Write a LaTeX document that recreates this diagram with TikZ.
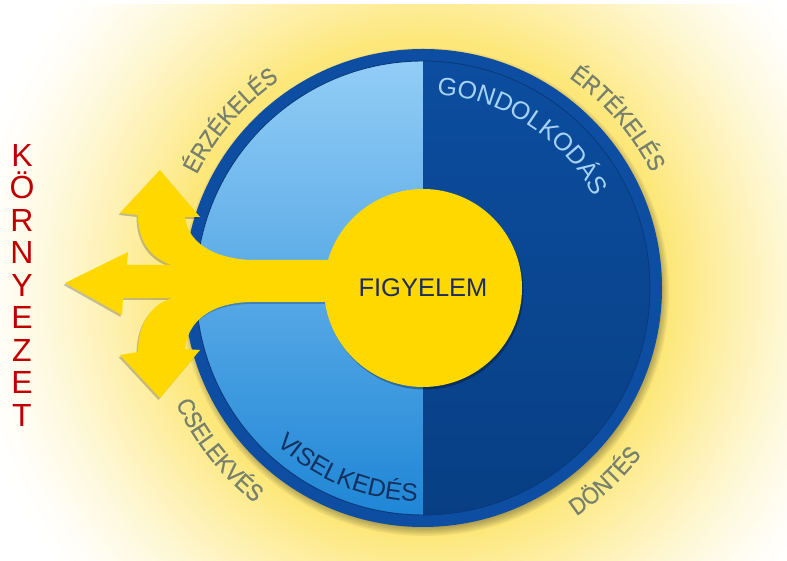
\documentclass[tikz,border=0pt]{standalone}
\usepackage{fontspec}
\setmainfont{Liberation Sans}
\newfontfamily\lblfont[FakeStretch=0.9,FakeBold=0.6]{Liberation Sans}
\usetikzlibrary{decorations.text}
\definecolor{glowY}{HTML}{FDE77A}
\definecolor{ringc}{HTML}{0D4EA2}
\definecolor{ringline}{HTML}{0A3A7C}
\definecolor{lefttop}{HTML}{92CDF6}
\definecolor{leftmid}{HTML}{55A8EA}
\definecolor{leftbot}{HTML}{1F86D6}
\definecolor{righttop}{HTML}{0C4D9F}
\definecolor{rightbot}{HTML}{083F84}
\definecolor{yel}{HTML}{FFD800}
\definecolor{lblgray}{HTML}{76806C}
\definecolor{kred}{HTML}{C00000}
\definecolor{navy}{HTML}{1E2D5E}
\definecolor{gondc}{HTML}{A6D3F5}
\definecolor{visc}{HTML}{14305E}
\newcommand{\outerfont}{\lblfont\fontsize{24}{24}\selectfont}
\newcommand{\innerfont}{\fontsize{25}{25}\selectfont}
\begin{document}
\begin{tikzpicture}[x=1pt,y=1pt,
  arrowshadow/.style={fill=black, opacity=0.22, xshift=-1.5pt, yshift=-2pt},
  arrowfill/.style={fill=yel},
  kletter/.style={text=kred, font=\fontsize{32}{32}\selectfont, anchor=base, inner sep=0pt},
  figcircle/.style={circle, fill=yel, minimum size=198pt, inner sep=0pt, text=navy, font=\fontsize{25.5}{25.5}\selectfont}
]
\useasboundingbox (0,0) rectangle (787,561);
\fill[white] (0,0) rectangle (787,561);
\begin{scope}
  \clip (0,0) rectangle (787,556);
  \foreach \k in {0,...,42} {
    \pgfmathsetmacro\r{460-5*\k}
    \pgfmathsetmacro\p{100*pow(1-(\r-250)/210,1.4)}
    \fill[glowY!\p!white] (423,273) circle (\r);
  }
\end{scope}

% shadow of the big circle
\foreach \k in {0,...,5} \fill[black, opacity=0.06] (425,269) circle ({244-\k*1.6});
% big circle
\fill[ringc] (423,273) circle (239);
\shade[top color=lefttop, middle color=leftmid, bottom color=leftbot] (423,500) arc[start angle=90, end angle=270, radius=227] -- cycle;
\shade[top color=righttop, bottom color=rightbot] (423,500) arc[start angle=90, end angle=-90, radius=227] -- cycle;
\draw[ringline, line width=0.9] (423,273) circle (227);

% yellow circle shadow
\fill[black, opacity=0.3] (424.5,270.5) circle (99);

% arrows
\foreach \st in {arrowshadow, arrowfill}
\fill[\st] (340,301) -- (250,301)
  .. controls (212,303) and (188,319) .. (185,344)
  -- (200,344) -- (160,391) -- (120,348) -- (138,346)
  .. controls (138,321) and (150,303) .. (172,296)
  -- (127,296) -- (128,309) -- (65,278) -- (122,246) -- (123,263) -- (172,263)
  .. controls (150,256) and (138,236) .. (138,209)
  -- (120,206) -- (160,163) -- (200,211) -- (185,212)
  .. controls (188,241) and (212,258) .. (250,259)
  -- (340,259) -- cycle;

\node[figcircle] (fig) at (423,273) {FIGYELEM};

% curved labels
\path[shift={(423,273)}, decorate, decoration={text along path, text align=center, text color=lblgray, text={|\outerfont|ÉRZÉKELÉS}}]
  (179:253) arc[start angle=179, end angle=99, radius=253];
\path[shift={(423,273)}, decorate, decoration={text along path, text align=center, text color=lblgray, text={|\outerfont|ÉRTÉKELÉS}}]
  (81:256) arc[start angle=81, end angle=1, radius=256];
\path[shift={(423,273)}, decorate, decoration={text along path, text align=center, text color=lblgray, text={|\outerfont|CSELEKVÉS}}]
  (178.5:273) arc[start angle=178.5, end angle=258.5, radius=273];
\path[shift={(423,273)}, decorate, decoration={text along path, text align=center, text color=lblgray, text={|\outerfont|DÖNTÉS}}]
  (273.3:275) arc[start angle=273.3, end angle=353.3, radius=275];
\path[shift={(423,273)}, decorate, decoration={text along path, text align=center, text color=gondc, text={|\innerfont|GONDOLKODÁS}}]
  (97:194) arc[start angle=97, end angle=17, radius=194];
\path[shift={(423,273)}, decorate, decoration={text along path, text align=center, text color=visc, text={|\innerfont|VISELKEDÉS}}]
  (207.6:214) arc[start angle=207.6, end angle=287.6, radius=214];

% KÖRNYEZET
\foreach \l [count=\i] in {K,Ö,R,N,Y,E,Z,E,T}
  \node[kletter] (kor\i) at (22, {394.5-(\i-1)*32.5}) {\l};
\end{tikzpicture}
\end{document}
